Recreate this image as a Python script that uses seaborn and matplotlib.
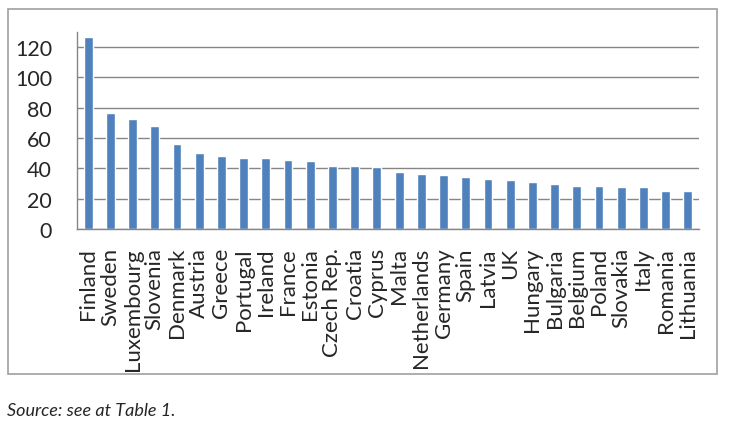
import matplotlib
matplotlib.use("Agg")
import matplotlib.pyplot as plt
import seaborn as sns
import pandas as pd
import numpy as np
from matplotlib.patches import Rectangle

countries = ["Finland", "Sweden", "Luxembourg", "Slovenia", "Denmark", "Austria",
             "Greece", "Portugal", "Ireland", "France", "Estonia", "Czech Rep.",
             "Croatia", "Cyprus", "Malta", "Netherlands", "Germany", "Spain",
             "Latvia", "UK", "Hungary", "Bulgaria", "Belgium", "Poland",
             "Slovakia", "Italy", "Romania", "Lithuania"]
values = [126.5, 76.8, 72.8, 67.8, 56.4, 50.2,
          48.0, 46.9, 46.7, 45.8, 45.0, 41.4,
          41.4, 40.6, 37.3, 36.2, 35.5, 34.4,
          33.1, 32.5, 30.7, 29.4, 28.3, 28.1,
          27.6, 27.4, 25.4, 25.0]
y_ticks = [0, 20, 40, 60, 80, 100, 120]

df = pd.DataFrame({"country": countries, "value": values})

sns.set_style("white")
plt.rcParams["font.family"] = ["Lato", "DejaVu Sans"]

W, H = 730, 431
fig = plt.figure(figsize=(W / 100, H / 100), dpi=100)

# axes box in pixels: left 77, right 699, top 33, bottom 230
ax = fig.add_axes([77 / W, 1 - 230 / H, (699 - 77) / W, (230 - 33) / H])
sns.barplot(data=df, x="country", y="value", color="#4F81BD", saturation=1,
            width=0.4, ax=ax)

grid_c = "#868686"
ax.set_ylim(0, 130)
ax.set_xlim(-0.5, len(countries) - 0.5)
ax.set_yticks(y_ticks)
ax.yaxis.grid(True, color=grid_c, linewidth=1)
ax.set_axisbelow(True)
ax.set_xlabel("")
ax.set_ylabel("")

for s in ["top", "right"]:
    ax.spines[s].set_visible(False)
for s in ["left", "bottom"]:
    ax.spines[s].set_color(grid_c)
    ax.spines[s].set_linewidth(1)

ax.tick_params(axis="y", length=7, color=grid_c, labelsize=15.5, pad=11)
ax.set_xticks(np.arange(-0.5, len(countries), 1), minor=True)
ax.tick_params(axis="x", which="minor", length=6, color=grid_c, direction="out")
ax.tick_params(axis="x", which="major", length=0, labelsize=16, pad=13,
               labelrotation=90)

# outer chart border
fig.patches.append(Rectangle((8 / W, 1 - 375 / H), (717 - 8) / W, (375 - 9.5) / H,
                             transform=fig.transFigure, fill=False,
                             edgecolor="#A0A0A0", linewidth=1.2))

fig.text(7 / W, 1 - 411 / H, "Source: see at Table 1.", fontsize=13,
         style="italic", ha="left", va="center")

fig.savefig("out.png", dpi=100)
